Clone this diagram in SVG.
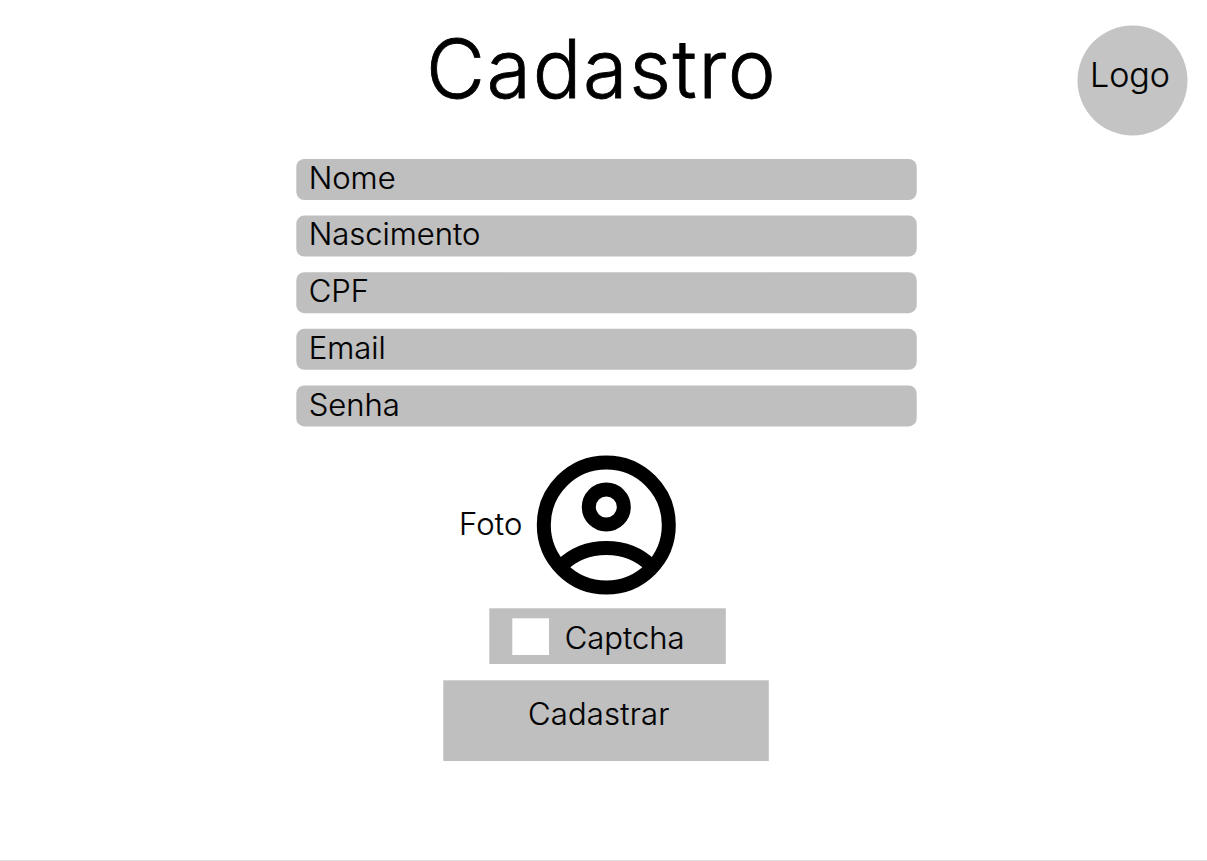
<svg xmlns="http://www.w3.org/2000/svg" width="1207" height="861" viewBox="0 0 1207 861">
<style>
text{font-family:Inter,"Liberation Sans",sans-serif;fill:#000;stroke:#000;stroke-width:.2px;font-size:31px;font-weight:300}
.f{fill:#bfbfbf}
.i{fill:none;stroke:#000;stroke-width:14}
</style>
<rect width="1207" height="861" fill="#fff"/>
<rect y="860" width="1207" height="1" fill="#e0e0e0"/>
<text id="title" x="426" y="97.500" style="font-size:81px;font-weight:300;stroke-width:.8px;letter-spacing:1.600px">Cadastro</text>
<g id="logo"><circle cx="1132.500" cy="80.500" r="55" fill="#c4c4c4"/><text x="1090" y="87" style="font-size:34px">Logo</text></g>
<g id="nome"><rect class="f" x="296.300" y="159" width="620.400" height="41" rx="8"/><text x="308.700" y="189">Nome</text></g>
<g id="nascimento"><rect class="f" x="296.300" y="215.600" width="620.400" height="41" rx="8"/><text x="308.700" y="245">Nascimento</text></g>
<g id="cpf"><rect class="f" x="296.300" y="272.200" width="620.400" height="41" rx="8"/><text x="308.700" y="302">CPF</text></g>
<g id="email"><rect class="f" x="296.300" y="328.800" width="620.400" height="41" rx="8"/><text x="308.700" y="358.500">Email</text></g>
<g id="senha"><rect class="f" x="296.300" y="385.400" width="620.400" height="41" rx="8"/><text x="308.700" y="415.500">Senha</text></g>
<g id="foto"><text x="459" y="535" style="letter-spacing:.2px">Foto</text>
<circle class="i" cx="606.300" cy="525" r="62.500"/>
<circle class="i" cx="606.300" cy="507" r="17.500"/>
<path class="i" d="M561.300 566C585.300 542 627.300 542 651.300 566"/></g>
<g id="captcha"><rect class="f" x="489.300" y="608.300" width="236.500" height="55.700"/><rect x="512.300" y="618.300" width="36.700" height="36.700" fill="#fff"/><text x="564.700" y="649">Captcha</text></g>
<g id="cadastrar"><rect class="f" x="443.300" y="680.300" width="325.500" height="80.700"/><text x="528" y="725" style="letter-spacing:.2px">Cadastrar</text></g>
<g id="connectors"/>
</svg>
